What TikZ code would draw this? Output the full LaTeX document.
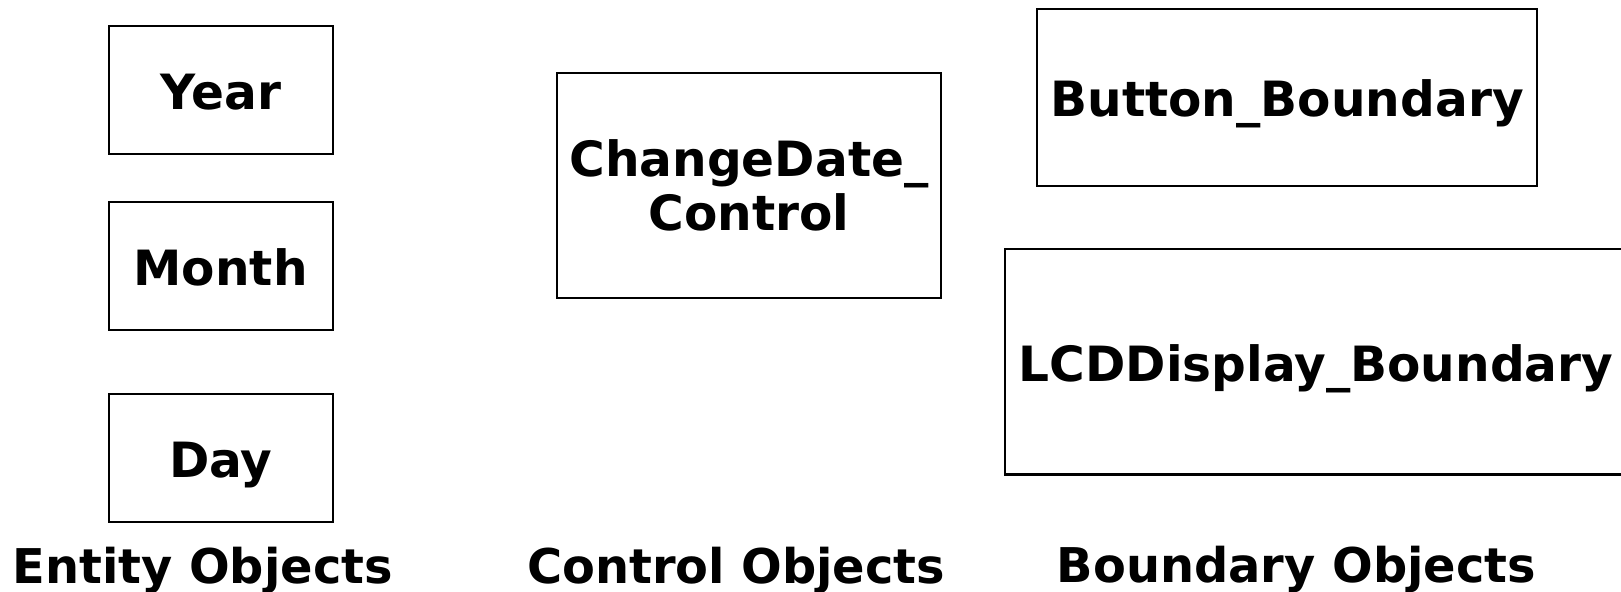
\documentclass[tikz,border=0pt]{standalone}
\usepackage{fontspec}
\setmainfont{DejaVu Sans}
\begin{document}
\begin{tikzpicture}[x=1pt,y=-1pt,
  box/.style={draw=black, line width=2pt, inner sep=0pt, fill=none},
  lbl/.style={font=\fontsize{47}{52.2}\selectfont\bfseries, inner sep=0pt, align=center, anchor=base},
  grouplbl/.style={font=\fontsize{46.3}{56}\selectfont\bfseries, inner sep=0pt, anchor=base}]
\useasboundingbox (0,0) rectangle (1568,572.6);
\clip (0,0) rectangle (1568,572.6);
\node[box, minimum width=217pt, minimum height=124pt] (year) at (213.5,87) {};
\node[lbl] (yeart) at (213.5,106) {Year};
\node[box, minimum width=217pt, minimum height=124pt] (month) at (213.5,257) {};
\node[lbl] (montht) at (213.5,276) {Month};
\node[box, minimum width=217pt, minimum height=124pt] (day) at (213.5,443) {};
\node[lbl] (dayt) at (213.5,461.5) {Day};
\node[box, minimum width=371pt, minimum height=217pt] (ctrl) at (724.5,179.5) {};
\node[lbl] (ctrlt) at (724.5,222.5) {ChangeDate\_\\Control};
\node[box, minimum width=484pt, minimum height=171pt] (btn) at (1245,94.5) {};
\node[lbl] (btnt) at (1245,113) {Button\_Boundary};
\node[box, minimum width=700pt, minimum height=218pt] (lcd) at (1322,350) {};
\node[lbl] (lcdt) at (1273,369) {LCDDisplay\_Boundary};
\node[grouplbl] (ent) at (196,564.5) {Entity Objects};
\node[grouplbl] (con) at (712,564.5) {Control Objects};
\node[grouplbl] (bnd) at (1254,563) {Boundary Objects};
\end{tikzpicture}
\end{document}
